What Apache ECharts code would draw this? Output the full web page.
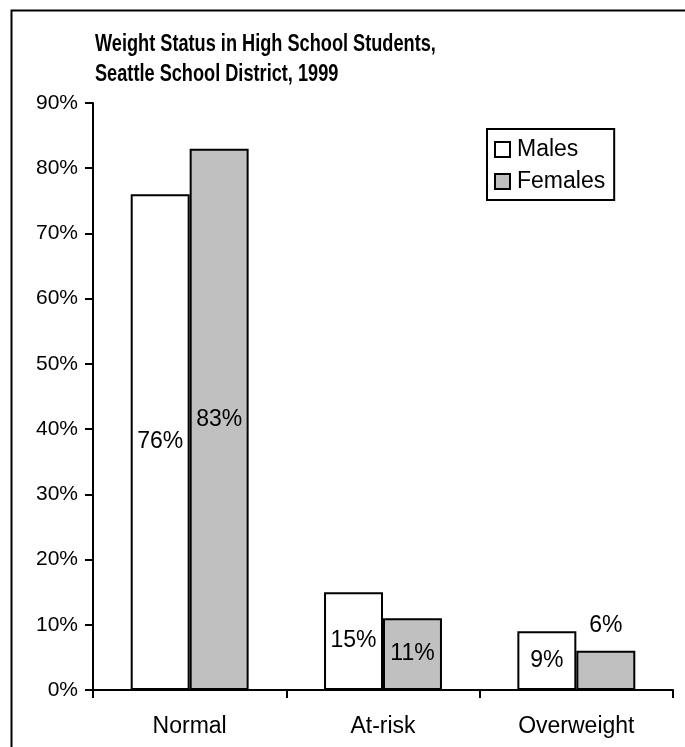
<!DOCTYPE html>
<html>
<head>
<meta charset="utf-8">
<style>
  html, body { margin: 0; padding: 0; background: #fff; }
  #chart { width: 685px; height: 747px; }
</style>
<script src="https://cdn.jsdelivr.net/npm/echarts@6/dist/echarts.min.js"></script>
</head>
<body>
<div id="chart"></div>
<script>
// Weight status categories and percentages by sex
const categories = ['Normal', 'At-risk', 'Overweight'];
const males = [76, 15, 9];
const females = [83, 11, 6];
const yTicks = [0, 10, 20, 30, 40, 50, 60, 70, 80, 90];
const titleLines = ['Weight Status in High School Students,', 'Seattle School District, 1999'];

const FONT = '"Liberation Sans", Arial, Helvetica, sans-serif';

const chart = echarts.init(document.getElementById('chart'), null, { renderer: 'canvas' });

// Females' smallest value sits above its bar, the rest are centred inside
function labelled(values, topIndex) {
  return values.map((v, i) => ({
    value: v,
    label: i === topIndex ? { position: 'top', distance: 14 } : { position: 'inside' }
  }));
}

const barLabel = {
  show: true,
  formatter: '{c}%',
  color: '#000',
  fontFamily: FONT,
  fontSize: 23
};

chart.setOption({
  animation: false,
  backgroundColor: '#fff',
  textStyle: { fontFamily: FONT, color: '#000' },
  legend: {
    orient: 'vertical',
    left: 487,
    top: 129,
    padding: [9, 9, 7, 7],
    itemWidth: 15,
    itemHeight: 15,
    itemGap: 9,
    borderColor: '#000',
    borderWidth: 2,
    icon: 'rect',
    textStyle: { fontFamily: FONT, fontSize: 23, color: '#000', padding: [0, 0, 0, 2] },
    data: ['Males', 'Females']
  },
  grid: { left: 93, right: 12, top: 103, bottom: 57, containLabel: false },
  xAxis: {
    type: 'category',
    data: categories,
    axisLine: { lineStyle: { color: '#000', width: 2 } },
    axisTick: { show: true, length: 8, lineStyle: { color: '#000', width: 2 } },
    axisLabel: { color: '#000', fontFamily: FONT, fontSize: 23, margin: 25 }
  },
  yAxis: {
    type: 'value',
    min: yTicks[0],
    max: yTicks[yTicks.length - 1],
    interval: 10,
    axisLine: { show: true, lineStyle: { color: '#000', width: 2 } },
    axisTick: { show: true, length: 8, lineStyle: { color: '#000', width: 2 } },
    splitLine: { show: false },
    axisLabel: { color: '#000', fontFamily: FONT, fontSize: 21, margin: 15, formatter: '{value}%' }
  },
  series: [
    {
      name: 'Males',
      type: 'bar',
      data: labelled(males, -1),
      barGap: '0%',
      barCategoryGap: '39%',
      itemStyle: { color: '#fff', borderColor: '#000', borderWidth: 2 },
      label: barLabel
    },
    {
      name: 'Females',
      type: 'bar',
      data: labelled(females, 2),
      barGap: '0%',
      barCategoryGap: '39%',
      itemStyle: { color: '#c0c0c0', borderColor: '#000', borderWidth: 2 },
      label: barLabel
    }
  ],
  graphic: [
    {
      // outer frame around the chart area
      type: 'rect',
      left: 9,
      top: 8,
      shape: { x: 0, y: 0, width: 720, height: 780 },
      style: { fill: null, stroke: '#000', lineWidth: 2 },
      silent: true
    },
    {
      // two-line bold title, slightly condensed
      type: 'text',
      x: 95,
      y: 30,
      scaleX: 0.79,
      style: {
        text: titleLines.join('\n'),
        font: 'bold 23px ' + FONT,
        fill: '#000',
        lineHeight: 30,
        verticalAlign: 'top',
        align: 'left'
      },
      silent: true
    }
  ]
});
</script>
</body>
</html>
